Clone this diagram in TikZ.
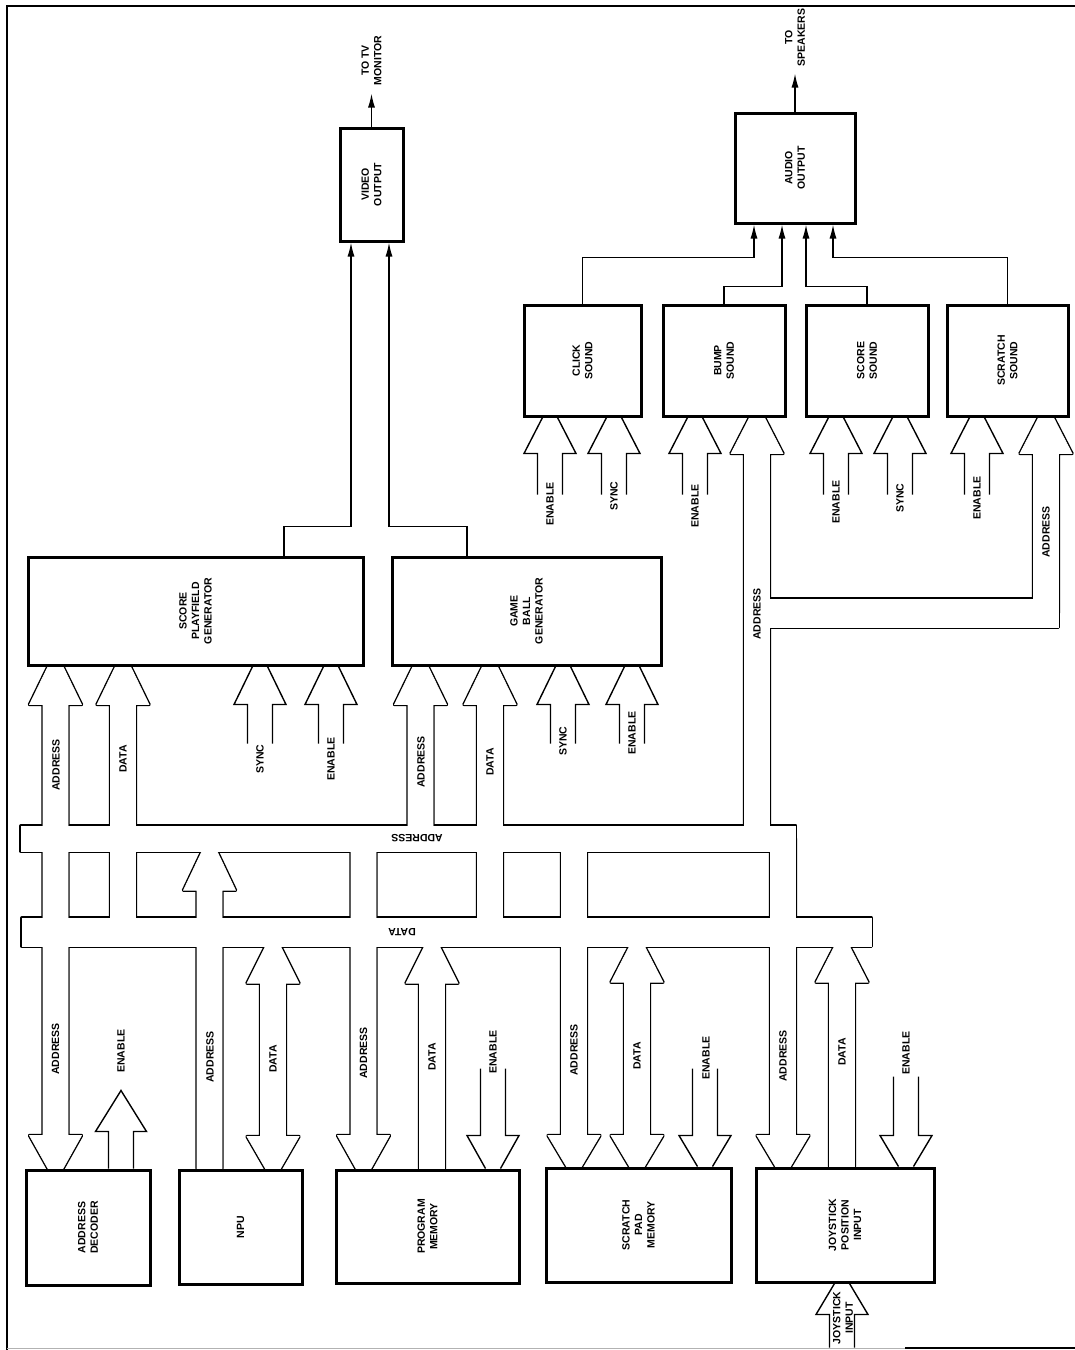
\documentclass[tikz,border=0pt]{standalone}
\usepackage{fontspec}
\newfontfamily\dgmfont{Liberation Sans Bold}
\usepackage{tikz}
\usetikzlibrary{arrows.meta, backgrounds, calc}

\tikzset{
  blk/.style={draw, line width=3pt, fill=white, inner sep=0pt},
  boxtext/.style={font=\dgmfont\fontsize{10.5}{12.5}\selectfont, rotate=90,
                  align=center, inner sep=0pt},
  sigtext/.style={font=\dgmfont\fontsize{10.5}{12.5}\selectfont, rotate=90, inner sep=0pt},
  bustext/.style={font=\dgmfont\fontsize{10.5}{12.5}\selectfont, rotate=180, inner sep=0pt},
  busshape/.style={inner sep=0pt},
  fatline/.style={line width=1.4pt, line join=miter},
  netline/.style={draw, line width=3.4pt, line join=round},
  netfill/.style={fill=white, draw=white, line width=0.6pt},
  sig/.style={line width=1.4pt, -{Latex[length=14pt, width=7pt]}}
}

% box node from its corners (pixel grid, y down)
\newcommand{\blkbox}[6]{%
  \node[blk, minimum width={#4-#2}, minimum height={#5-#3},
        label={[boxtext]center:{#6}}] (#1) at ({(#2+#4)/2},{(#3+#5)/2}) {};}

% wide arrow: style, x, tip anchor, tail anchor, head length
\newcommand{\fatarrow}[5]{%
  \path[#1] (#3 -| #2,0) ++(-7.5,0) -- ++(15,0) -- ++(18.5,#5) -- ++(-13.5,0) coordinate (sr)
    -- (#4 -| sr) -- ++(-25,0) -- (sr -| {#2-12.5},0) -- ++(-13.5,0) -- cycle;}

% wide arrow with two heads: style, x, tip 1, tip 2, length 1, length 2
\newcommand{\fatboth}[6]{%
  \path (#4 -| #2,0) ++(12.5,#6) coordinate (sb);
  \path[#1] (#3 -| #2,0) ++(-7.5,0) -- ++(15,0) -- ++(18.5,#5) -- ++(-13.5,0) coordinate (sa)
    -- (sb) -- ++(13.5,0) -- (#4 -| {#2+7.5},0) -- ++(-15,0) -- ++(-18.5,#6) -- ++(13.5,0)
    -- (sa -| {#2-12.5},0) -- ++(-13.5,0) -- cycle;}

% short wide arrow with open tail: x, tip anchor, head length, tail length
\newcommand{\openarrow}[4]{%
  \draw[fatline] (#2 -| #1,0) ++(-7.5,0) -- ++(-18.5,#3) -- ++(13.5,0) -- ++(0,#4);
  \draw[fatline] (#2 -| #1,0) ++(7.5,0) -- ++(18.5,#3) -- ++(-13.5,0) -- ++(0,#4);}

% buses and all wide arrows joined to them
\newcommand{\busnet}[1]{%
  \path[#1] (abus.south west) rectangle (abus.north east);
  \path[#1] (dbus.south west) rectangle (dbus.north east);
  \path[#1] (alink.south west) rectangle (alink.north east);
  \fatboth{#1}{55.5}{scoregen.south}{addrdec.north}{38}{-33}
  \fatarrow{#1}{123}{scoregen.south}{dbus.center}{38}
  \fatarrow{#1}{420.5}{gamegen.south}{abus.center}{38}
  \fatarrow{#1}{490}{gamegen.south}{dbus.center}{38}
  \fatarrow{#1}{209.5}{abus.south}{npu.north}{39}
  \fatboth{#1}{273}{dbus.south}{npu.north}{37}{-32}
  \fatarrow{#1}{363.5}{progmem.north}{abus.center}{-33}
  \fatarrow{#1}{432}{dbus.south}{progmem.north}{37}
  \fatarrow{#1}{574}{scratchmem.north}{abus.center}{-31}
  \fatboth{#1}{637}{dbus.south}{scratchmem.north}{36}{-31}
  \fatarrow{#1}{783}{joystick.north}{abus.center}{-31}
  \fatarrow{#1}{842}{dbus.south}{joystick.north}{36}
  \fatarrow{#1}{757}{bump.south}{abus.center}{36}
  \fatarrow{#1}{1046}{scratchsnd.south}{alink.center}{36}
}

\begin{document}
\begin{tikzpicture}[x=1pt, y=-1pt]
  \useasboundingbox (0,0) rectangle (1075,1350);

  % page frame
  \draw[line width=2.5pt] (7,1350) -- (7,6) -- (1075,6);
  \draw[black!30, line width=0.8pt] (7,1348) -- (905,1348);
  \draw[line width=1.6pt] (905,1348) -- (1075,1348);

  % blocks
  \blkbox{video}{340}{128}{403}{241}{VIDEO\\OUTPUT}
  \blkbox{audio}{735}{113}{855}{223}{AUDIO\\OUTPUT}
  \blkbox{click}{524}{305}{641}{416}{CLICK\\SOUND}
  \blkbox{bump}{663}{305}{785}{416}{BUMP\\SOUND}
  \blkbox{scoresnd}{806}{305}{928}{416}{SCORE\\SOUND}
  \blkbox{scratchsnd}{947}{305}{1068}{416}{SCRATCH\\SOUND}
  \blkbox{scoregen}{28}{557}{363}{665}{SCORE\\PLAYFIELD\\GENERATOR}
  \blkbox{gamegen}{392}{557}{661}{665}{GAME\\BALL\\GENERATOR}
  \blkbox{addrdec}{26}{1170}{150}{1285}{ADDRESS\\DECODER}
  \blkbox{npu}{179}{1170}{302}{1284}{NPU}
  \blkbox{progmem}{336}{1170}{519}{1283}{PROGRAM\\MEMORY}
  \blkbox{scratchmem}{546}{1168}{731}{1282}{SCRATCH\\PAD\\MEMORY}
  \blkbox{joystick}{756}{1168}{934}{1282}{JOYSTICK\\POSITION\\INPUT}

  % bus outlines (drawn below the blocks)
  \node[busshape, minimum width=774.5, minimum height=25] (abus) at (408.25,838.5) {};
  \node[busshape, minimum width=849, minimum height=28] (dbus) at (446.5,932) {};
  \node[busshape, minimum width=301.5, minimum height=28] (alink) at (907.75,613) {};
  \begin{pgfonlayer}{background}
    \fill[white] (0,0) rectangle (1075,1350);
    \busnet{netline}
    \busnet{netfill}
  \end{pgfonlayer}
  \node[bustext] (abustext) at (abus.center -| 417,0) {ADDRESS};
  \node[bustext] (dbustext) at (dbus.center -| 402,0) {DATA};

  % short inputs
  \openarrow{260}{scoregen.south}{38}{39}
  \openarrow{331}{scoregen.south}{38}{39}
  \openarrow{563}{gamegen.south}{38}{39}
  \openarrow{632}{gamegen.south}{38}{39}
  \foreach \x in {550,614}{\openarrow{\x}{click.south}{36}{41}}
  \openarrow{695}{bump.south}{36}{41}
  \foreach \x in {836,900}{\openarrow{\x}{scoresnd.south}{36}{41}}
  \openarrow{977}{scratchsnd.south}{36}{41}
  \openarrow{493}{progmem.north}{-33}{-67}
  \openarrow{705}{scratchmem.north}{-31}{-67}
  \openarrow{906}{joystick.north}{-31}{-59}
  \openarrow{842}{joystick.south}{31}{33}
  \draw[fatline] (addrdec.north -| 108.5,0) -- ++(0,-37) -- ++(-13,0)
    -- ++(25.5,-41) -- ++(25.5,41) -- ++(-13,0) -- ++(0,37);

  % signal names
  \foreach \x/\y/\txt [count=\i] in {
      55.5/1049/ADDRESS, 121/1051/ENABLE, 210/1057/ADDRESS, 273/1059/DATA,
      363.5/1053/ADDRESS, 432/1057/DATA, 493/1052/ENABLE, 574/1050/ADDRESS,
      637/1056/DATA, 706/1058/ENABLE, 783/1056/ADDRESS, 842/1052/DATA,
      906/1053/ENABLE,
      56/765/ADDRESS, 123/759/DATA, 260/759/SYNC, 331/759/ENABLE,
      421/762/ADDRESS, 490/762/DATA, 563/741/SYNC, 632/733/ENABLE,
      550/504/ENABLE, 614/496/SYNC, 695/506/ENABLE, 757/614/ADDRESS,
      836/502/ENABLE, 900/498/SYNC, 977/498/ENABLE, 1046/532/ADDRESS}
    \node[sigtext] (sl\i) at (\x,\y) {\txt};
  \node[boxtext] (joytext) at (843,1318) {JOYSTICK\\INPUT};

  % video path
  \draw[sig] ([xshift=88.5pt]scoregen.north) -- ++(0,-29) -| ([xshift=-20.5pt]video.south);
  \draw[sig] ([xshift=-59.5pt]gamegen.north) -- ++(0,-29) -| ([xshift=17.5pt]video.south);
  \draw[sig] (video.north) -- ++(0,-33) coordinate (tvend);
  \node[boxtext, anchor=west] (tvtext) at ([yshift=8pt]tvend) {TO TV\\MONITOR};

  % audio path
  \draw[sig] (click.north) -- ++(0,-46) -| ([xshift=-41pt]audio.south);
  \draw[sig] (bump.north) -- ++(0,-17) -| ([xshift=-13pt]audio.south);
  \draw[sig] (scoresnd.north) -- ++(0,-17) -| ([xshift=11pt]audio.south);
  \draw[sig] (scratchsnd.north) -- ++(0,-46) -| ([xshift=38pt]audio.south);
  \draw[sig] (audio.north) -- ++(0,-38) coordinate (spkend);
  \node[boxtext, anchor=west] (spktext) at ([yshift=7pt]spkend) {TO\\SPEAKERS};
\end{tikzpicture}
\end{document}
